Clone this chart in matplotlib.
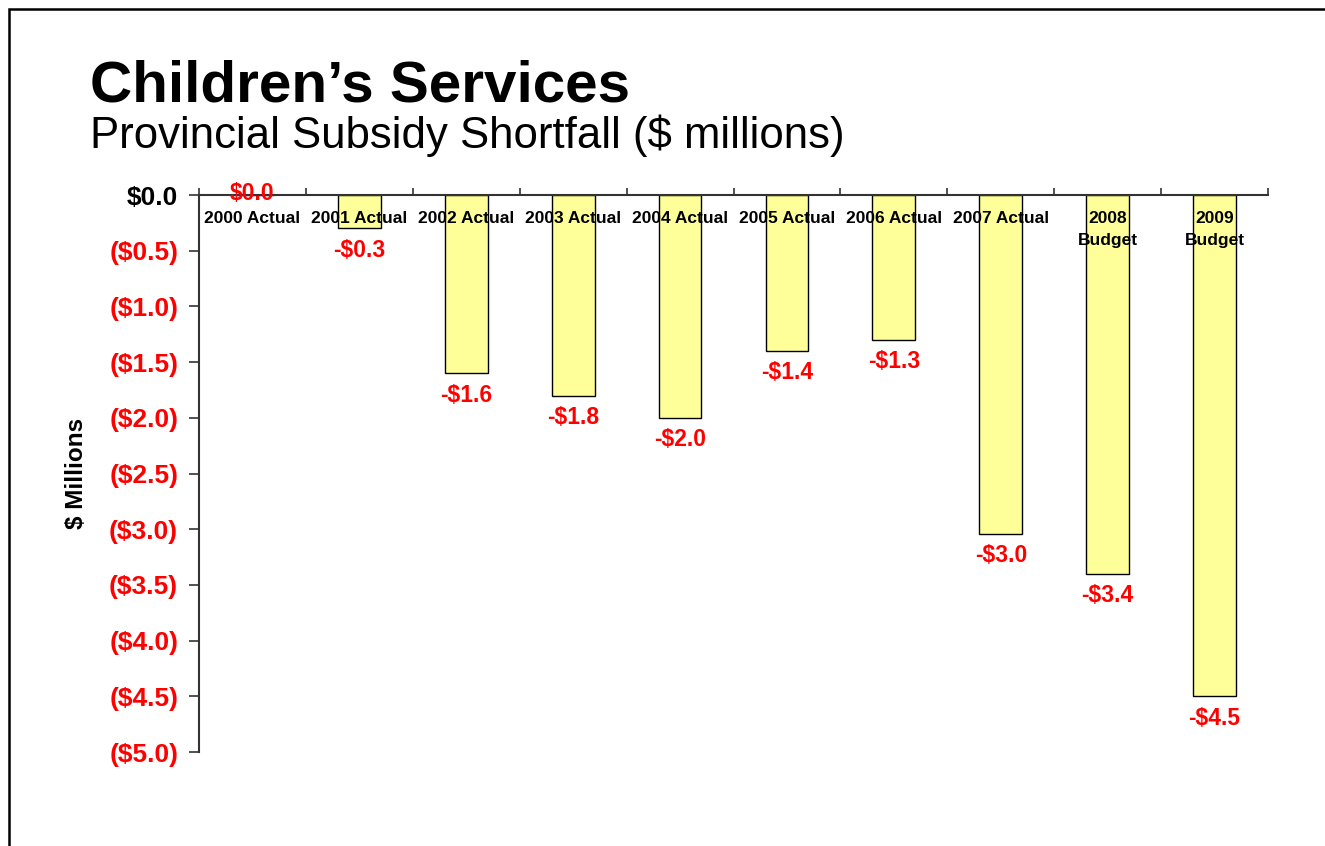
import matplotlib
matplotlib.use("Agg")
import matplotlib.pyplot as plt
from matplotlib.patches import Rectangle

# data
categories = ["2000 Actual", "2001 Actual", "2002 Actual", "2003 Actual", "2004 Actual",
              "2005 Actual", "2006 Actual", "2007 Actual", "2008\nBudget", "2009\nBudget"]
shortfall = [0.0, -0.3, -1.6, -1.8, -2.0, -1.4, -1.3, -3.04, -3.4, -4.5]
y_ticks = [0.0, -0.5, -1.0, -1.5, -2.0, -2.5, -3.0, -3.5, -4.0, -4.5, -5.0]

plt.rcParams['font.family'] = ['Liberation Sans', 'DejaVu Sans']

fig = plt.figure(figsize=(13.25, 8.46), dpi=100)
ax = fig.add_axes([199 / 1325, 1 - 752 / 846, 1069 / 1325, 557 / 846])

x = list(range(len(categories)))
ax.bar(x, shortfall, width=0.4, color='#FFFF99', edgecolor='black', linewidth=1.0, zorder=2)

ax.set_xlim(-0.5, len(categories) - 0.5)
ax.set_ylim(-5.0, 0.0)

# spines: y on left, category axis along zero (top)
for s in ['right', 'bottom']:
    ax.spines[s].set_visible(False)
ax.spines['left'].set_linewidth(1.5)
ax.spines['left'].set_color('#333333')
ax.spines['top'].set_linewidth(1.5)
ax.spines['top'].set_color('#333333')

# y ticks
ax.set_yticks(y_ticks)
ylabels = []
for v in y_ticks:
    if v == 0:
        ylabels.append('$%.1f' % abs(v))
    else:
        ylabels.append('($%.1f)' % abs(v))
ax.set_yticklabels(ylabels, fontsize=19, fontweight='bold')
for lab, v in zip(ax.get_yticklabels(), y_ticks):
    lab.set_color('black' if v == 0 else '#FF0000')
ax.tick_params(axis='y', direction='out', length=7, width=1.2, pad=8, color='#333333')

# category axis ticks at the boundaries, on top spine
ax.xaxis.tick_top()
ax.set_xticks([i - 0.5 for i in range(len(categories) + 1)])
ax.set_xticklabels([])
ax.tick_params(axis='x', direction='out', length=5, width=1.2, color='#333333')

# category labels just under the zero line
for i, cat in enumerate(categories):
    ax.annotate(cat, xy=(i, 0), xytext=(0, -16), textcoords='offset pixels',
                ha='center', va='top', fontsize=12.5, fontweight='bold',
                linespacing=1.55, zorder=3)

# value labels
for i, v in enumerate(shortfall):
    if v == 0:
        txt = '$%.1f' % abs(v)
        ax.annotate(txt, xy=(i, v), xytext=(0, 2), textcoords='offset pixels',
                    ha='center', va='center', fontsize=16.5, fontweight='bold',
                    color='#FF0000', zorder=4)
    else:
        txt = '-$%.1f' % abs(v)
        ax.annotate(txt, xy=(i, v), xytext=(0, -22), textcoords='offset pixels',
                    ha='center', va='center', fontsize=16.5, fontweight='bold',
                    color='#FF0000', zorder=4)

ax.set_ylabel('$ Millions', fontsize=17.5, fontweight='bold')
ax.yaxis.set_label_coords(-0.104, 0.5)

# titles
fig.text(90 / 1325, 1 - 102 / 846, 'Children\u2019s Services', fontsize=42,
         fontweight='bold', ha='left', va='baseline')
fig.text(90 / 1325, 1 - 148 / 846, 'Provincial Subsidy Shortfall ($ millions)',
         fontsize=31.5, ha='left', va='baseline')

# slide frame (runs off the right and bottom edges)
frame = Rectangle((8.5 / 1325, -0.1), 1.2, 1 - 8.5 / 846 + 0.1, transform=fig.transFigure,
                  fill=False, edgecolor='black', linewidth=1.8)
fig.patches.append(frame)

fig.savefig('out.png', dpi=100)
